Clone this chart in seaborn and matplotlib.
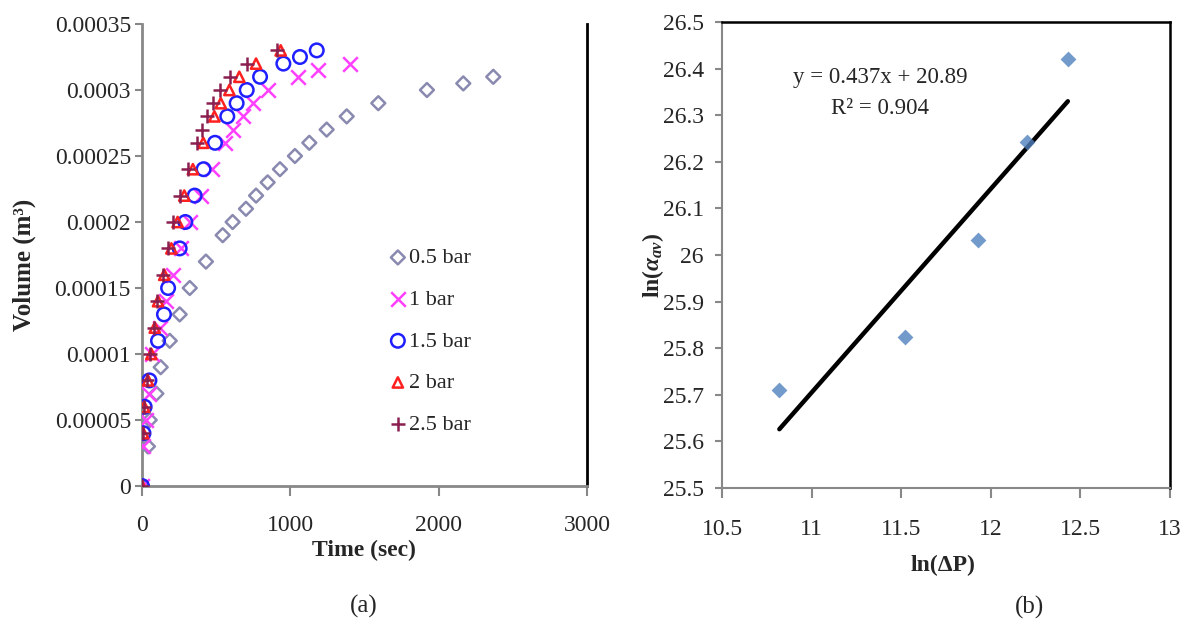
import numpy as np
import pandas as pd
import matplotlib
matplotlib.use("Agg")
import matplotlib.pyplot as plt
import seaborn as sns

# ---------------- data: panel (a) ----------------
t_05 = [0, 40, 52, 97, 126, 187, 254, 322, 431, 544, 611, 701, 769, 847, 930, 1031, 1128, 1245, 1380, 1593, 1921, 2166, 2368]
v_05 = [0, 0.00003, 0.00005, 0.00007, 0.00009, 0.00011, 0.00013, 0.00015, 0.00017, 0.00019, 0.0002, 0.00021, 0.00022, 0.00023, 0.00024, 0.00025, 0.00026, 0.00027, 0.00028, 0.00029, 0.0003, 0.000305, 0.00031]

t_10 = [0, 10, 25, 50, 65, 119, 164, 209, 265, 325, 395, 473, 560, 616, 683, 750, 851, 1054, 1189, 1402]
v_10 = [0, 0.00003, 0.00005, 0.00007, 0.0001, 0.00012, 0.00014, 0.00016, 0.00018, 0.0002, 0.00022, 0.00024, 0.00026, 0.00027, 0.00028, 0.00029, 0.0003, 0.00031, 0.000315, 0.00032]

t_15 = [0, 10, 18, 50, 108, 148, 176, 254, 292, 355, 415, 492, 575, 638, 706, 796, 953, 1065, 1178]
v_15 = [0, 0.00004, 0.00006, 0.00008, 0.00011, 0.00013, 0.00015, 0.00018, 0.0002, 0.00022, 0.00024, 0.00026, 0.00028, 0.00029, 0.0003, 0.00031, 0.00032, 0.000325, 0.00033]

t_20 = [0, 8, 15, 40, 63, 86, 108, 150, 198, 240, 285, 343, 413, 488, 531, 589, 656, 769, 935]
v_20 = [0, 0.00004, 0.00006, 0.00008, 0.0001, 0.00012, 0.00014, 0.00016, 0.00018, 0.0002, 0.00022, 0.00024, 0.00026, 0.00028, 0.00029, 0.0003, 0.00031, 0.00032, 0.00033]

t_25 = [0, 5, 12, 35, 55, 80, 100, 140, 175, 212, 258, 312, 369, 402, 436, 477, 526, 593, 706, 908]
v_25 = [0, 0.00004, 0.00006, 0.00008, 0.0001, 0.00012, 0.00014, 0.00016, 0.00018, 0.0002, 0.00022, 0.00024, 0.00026, 0.00027, 0.00028, 0.00029, 0.0003, 0.00031, 0.00032, 0.00033]

series_labels = ["0.5 bar", "1 bar", "1.5 bar", "2 bar", "2.5 bar"]
a_xticks = [0, 1000, 2000, 3000]
a_xticklabels = ["0", "1000", "2000", "3000"]
a_yticks = [0, 0.00005, 0.0001, 0.00015, 0.0002, 0.00025, 0.0003, 0.00035]
a_yticklabels = ["0", "0.00005", "0.0001", "0.00015", "0.0002", "0.00025", "0.0003", "0.00035"]

# ---------------- data: panel (b) ----------------
ln_dp = [10.82, 11.52, 11.93, 12.20, 12.43]
ln_alpha = [25.71, 25.824, 26.032, 26.243, 26.42]
b_xticks = [10.5, 11, 11.5, 12, 12.5, 13]
b_xticklabels = ["10.5", "11", "11.5", "12", "12.5", "13"]
b_yticks = [25.5, 25.6, 25.7, 25.8, 25.9, 26.0, 26.1, 26.2, 26.3, 26.4, 26.5]
b_yticklabels = ["25.5", "25.6", "25.7", "25.8", "25.9", "26", "26.1", "26.2", "26.3", "26.4", "26.5"]
eq_text = "y = 0.437x + 20.89"
r2_text = "R² = 0.904"

# ---------------- style ----------------
sns.set_theme(style="white")
plt.rcParams['font.family'] = ['Liberation Serif', 'DejaVu Serif']
plt.rcParams['mathtext.fontset'] = 'custom'
plt.rcParams['mathtext.rm'] = 'Liberation Serif'
plt.rcParams['mathtext.it'] = 'Liberation Serif:italic:bold'
plt.rcParams['mathtext.bf'] = 'Liberation Serif:bold'

fig = plt.figure(figsize=(11.88, 6.28), dpi=100)
W, H = 1188, 628
axa = fig.add_axes([142 / W, 1 - 486 / H, (587 - 142) / W, (486 - 24) / H])
axb = fig.add_axes([722 / W, 1 - 488 / H, (1170 - 722) / W, (488 - 22) / H])

grey = '#888888'
tick_fs = 17
label_fs = 17

# panel (a)
styles = [
    (t_05, v_05, 'D', '#8A8AB0', True, 50),
    (t_10, v_10, 'x', '#FF40FF', False, 110),
    (t_15, v_15, 'o', '#1F1FFF', True, 95),
    (t_20, v_20, '^', '#FF2020', True, 55),
    (t_25, v_25, '+', '#8B2050', False, 110),
]
for (tx, vy, mk, col, filled, sz), lab in zip(styles, series_labels):
    df = pd.DataFrame({"t": tx, "v": vy})
    if filled:
        sns.scatterplot(data=df, x="t", y="v", ax=axa, marker=mk, s=sz,
                        facecolor='none', edgecolor=col, linewidth=1.8, label=lab, zorder=3)
    else:
        sns.scatterplot(data=df, x="t", y="v", ax=axa, marker=mk, s=sz,
                        color=col, linewidth=1.8, label=lab, zorder=3)

axa.set_xlim(0, 3000)
axa.set_ylim(0, 0.00035)
axa.set_xticks(a_xticks)
axa.set_xticklabels(a_xticklabels)
axa.set_yticks(a_yticks)
axa.set_yticklabels(a_yticklabels)
axa.spines['top'].set_visible(False)
axa.spines['left'].set_color(grey)
axa.spines['bottom'].set_color(grey)
axa.spines['left'].set_linewidth(2)
axa.spines['bottom'].set_linewidth(2)
axa.spines['right'].set_color('black')
axa.spines['right'].set_linewidth(2)
axa.tick_params(axis='x', which='major', direction='out', length=7, width=1.5,
                color=grey, labelsize=tick_fs, pad=14, bottom=True)
axa.tick_params(axis='y', which='major', direction='out', length=5, width=1.5,
                color=grey, labelsize=tick_fs, pad=3, left=True)
axa.set_xlabel("Time (sec)", fontsize=label_fs, fontweight='bold')
axa.set_ylabel("Volume (m³)", fontsize=label_fs + 1, fontweight='bold')
axa.xaxis.set_label_coords((364 - 142) / 445, (486 - 540) / 462)
axa.yaxis.set_label_coords((36 - 142) / 445, (486 - 265) / 462)

leg = axa.legend(loc='upper left', bbox_to_anchor=(0.530, 0.535), frameon=False,
                 fontsize=16, handletextpad=0.0, labelspacing=0.95, borderaxespad=0,
                 handlelength=1.0)

# panel (b)
dfb = pd.DataFrame({"x": ln_dp, "y": ln_alpha})
sns.regplot(data=dfb, x="x", y="y", ax=axb, ci=None, marker='D',
            scatter_kws={'color': '#4F81BD', 's': 65, 'zorder': 3, 'linewidths': 0},
            line_kws={'color': 'black', 'linewidth': 3.2, 'zorder': 2})
axb.set_xlim(10.5, 13)
axb.set_ylim(25.5, 26.5)
axb.set_xticks(b_xticks)
axb.set_xticklabels(b_xticklabels)
axb.set_yticks(b_yticks)
axb.set_yticklabels(b_yticklabels)
for s in ['left', 'bottom']:
    axb.spines[s].set_color(grey)
    axb.spines[s].set_linewidth(1.5)
for s in ['top', 'right']:
    axb.spines[s].set_color('black')
    axb.spines[s].set_linewidth(1.8)
axb.tick_params(axis='x', which='major', direction='out', length=7, width=1.5,
                color=grey, labelsize=tick_fs, pad=15, bottom=True)
axb.tick_params(axis='y', which='major', direction='out', length=5, width=1.5,
                color=grey, labelsize=tick_fs, pad=8, left=True)
axb.set_xlabel("ln(ΔP)", fontsize=label_fs, fontweight='bold')
axb.set_ylabel(r"ln($\alpha_{av}$)", fontsize=label_fs, fontweight='bold')
axb.xaxis.set_label_coords((943 - 722) / 448, (488 - 555) / 466)
axb.yaxis.set_label_coords((666 - 722) / 448, (488 - 265) / 466)
axb.text((880 - 722) / 448, (488 - 77) / 466, eq_text, transform=axb.transAxes,
         fontsize=16.5, ha='center', va='center')
axb.text((880 - 722) / 448, (488 - 108) / 466, r2_text, transform=axb.transAxes,
         fontsize=16.5, ha='center', va='center')

fig.text(364 / W, 1 - 606 / H, "(a)", fontsize=18, ha='center', va='center')
fig.text(1029 / W, 1 - 607 / H, "(b)", fontsize=18, ha='center', va='center')

fig.savefig("out.png", dpi=100)
